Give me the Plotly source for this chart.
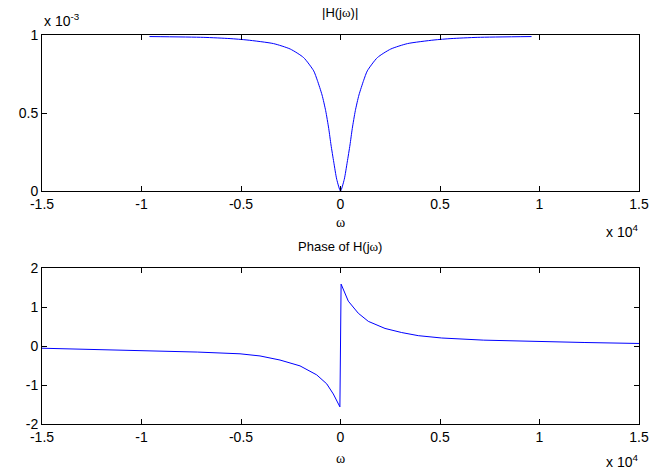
import plotly.graph_objects as go

# Frequency response samples of H(jw)
mag_w = [-9600, -6900, -5550, -4700, -3370, -2525, -1852, -1347, -1166, -926, -745, -591, -477, -338, -190, 0,
         190, 338, 477, 591, 745, 926, 1166, 1347, 1852, 2525, 3370, 4700, 5550, 6900, 9600]
mag_val = [0.990, 0.985, 0.977, 0.968, 0.945, 0.910, 0.855, 0.770, 0.710, 0.615, 0.515, 0.400, 0.295, 0.185, 0.075, 0.0,
           0.075, 0.185, 0.295, 0.400, 0.515, 0.615, 0.710, 0.770, 0.855, 0.910, 0.945, 0.968, 0.977, 0.985, 0.990]
mag_val = [v * 1e-3 for v in mag_val]

ph_w = [-15000, -12240, -9200, -7200, -5050, -4045, -3040, -2035, -1196, -693, -362, -30,
        30, 392, 894, 1397, 2236, 3075, 3910, 5085, 7200, 9200, 12240, 15000]
ph_val = [-0.057, -0.085, -0.12, -0.155, -0.20, -0.255, -0.36, -0.51, -0.74, -0.97, -1.23, -1.56,
          1.587, 1.15, 0.84, 0.632, 0.45, 0.345, 0.265, 0.205, 0.15, 0.12, 0.09, 0.065]

x_ticks = [-15000, -10000, -5000, 0, 5000, 10000, 15000]
x_labels = ["-1.5", "-1", "-0.5", "0", "0.5", "1", "1.5"]
mag_ticks = [0, 0.5e-3, 1e-3]
mag_labels = ["0", "0.5", "1"]
ph_ticks = [-2, -1, 0, 1, 2]
ph_labels = ["-2", "-1", "0", "1", "2"]

W, H = 652, 470
blue = "#0000ff"
family = "Liberation Sans, Arial, sans-serif"
font = dict(family=family, size=14, color="black")

fig = go.Figure()
fig.add_trace(go.Scatter(x=mag_w, y=mag_val, mode="lines", line=dict(color=blue, width=1, shape="spline", smoothing=0.6),
                         xaxis="x", yaxis="y", showlegend=False))
fig.add_trace(go.Scatter(x=ph_w, y=ph_val, mode="lines", line=dict(color=blue, width=1),
                         xaxis="x2", yaxis="y2", showlegend=False))

axis_common = dict(showgrid=False, zeroline=False, showline=True, linecolor="black", linewidth=1,
                   mirror="ticks", ticks="inside", ticklen=5, tickcolor="black", tickfont=font,
                   automargin=False)

x0, x1 = 42 / W, 639 / W
fig.update_layout(
    template="none",
    width=W, height=H, margin=dict(l=0, r=0, t=0, b=0, autoexpand=False),
    paper_bgcolor="white", plot_bgcolor="white",
    xaxis=dict(domain=[x0, x1], range=[-15000, 15000], tickvals=x_ticks, ticktext=x_labels,
               anchor="y", **axis_common),
    yaxis=dict(domain=[(H - 191) / H, (H - 35) / H], range=[0, 1e-3], tickvals=mag_ticks,
               ticktext=mag_labels, anchor="x", **axis_common),
    xaxis2=dict(domain=[x0, x1], range=[-15000, 15000], tickvals=x_ticks, ticktext=x_labels,
                anchor="y2", **axis_common),
    yaxis2=dict(domain=[(H - 424) / H, (H - 268) / H], range=[-2, 2], tickvals=ph_ticks,
                ticktext=ph_labels, anchor="x2", **axis_common),
)

def px(xp, yp):
    return xp / W, 1 - yp / H

omega = "<span style='font-family:Liberation Serif'>ω</span>"
annots = [
    ("|H(j" + omega + ")|", 340, 13, "center", 13),
    ("Phase of H(j" + omega + ")", 340, 246, "center", 13),
    (omega, 340, 222, "center", 14),
    (omega, 340, 458, "center", 14),
    ("x 10<sup>-3</sup>", 42, 20, "left", 14),
    ("x 10<sup>4</sup>", 640, 231, "right", 14),
    ("x 10<sup>4</sup>", 640, 461, "right", 14),
]
for text, xp, yp, anchor, size in annots:
    ax, ay = px(xp, yp)
    fig.add_annotation(text=text, x=ax, y=ay, xref="paper", yref="paper", xanchor=anchor,
                       yanchor="middle", showarrow=False,
                       font=dict(family=family, size=size, color="black"))

fig.write_html("out.html")
